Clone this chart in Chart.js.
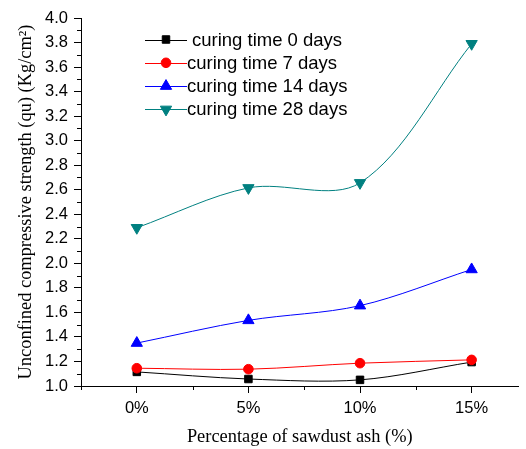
<!DOCTYPE html>
<html>
<head>
<meta charset="utf-8">
<script src="https://cdn.jsdelivr.net/npm/chart.js@4.4.1/dist/chart.umd.min.js"></script>
<style>
  html, body { margin: 0; padding: 0; background: #fff; }
  #wrap { width: 526px; height: 449px; position: relative; }
</style>
</head>
<body>
<div id="wrap"><canvas id="ucs"></canvas></div>
<script>
// ---- data ----
const categories = ['0%', '5%', '10%', '15%'];
const xPositions = [0, 1, 2, 3];
const seriesNames = ['curing time 0 days', 'curing time 7 days', 'curing time 14 days', 'curing time 28 days'];
const cure0  = [1.115, 1.057, 1.050, 1.195];
const cure7  = [1.145, 1.137, 1.186, 1.213];
const cure14 = [1.350, 1.535, 1.655, 1.950];
const cure28 = [2.290, 2.615, 2.656, 3.790];

const seriesColors = ['#000000', '#ff0000', '#0000ff', '#008080'];
const seriesMarkers = [
  { style: 'rect', radius: 5.3, rotation: 0 },
  { style: 'circle', radius: 4.8, rotation: 0 },
  { style: 'triangle', radius: 6.5, rotation: 0 },
  { style: 'triangle', radius: 6.5, rotation: 180 }
];

const SANS = '"Liberation Sans", Arial, sans-serif';
const SERIF = '"Liberation Serif", "Times New Roman", serif';

function toPoints(vals) { return vals.map((v, i) => ({ x: xPositions[i], y: v })); }

// minor ticks + legend drawn by hand (Origin style)
const originDecor = {
  id: 'originDecor',
  afterDraw(chart) {
    const { ctx, scales: { x, y } } = chart;
    ctx.save();
    ctx.strokeStyle = '#000';
    ctx.lineWidth = 1;
    ctx.beginPath();
    // x minor ticks
    for (let v = -0.5; v <= x.max; v += 1) {
      const px = Math.round(x.getPixelForValue(v)) + 0.5;
      ctx.moveTo(px, y.bottom);
      ctx.lineTo(px, y.bottom + 4);
    }
    // y minor ticks
    for (let k = 1; k < 30; k += 2) {
      const py = Math.round(y.getPixelForValue(1 + k * 0.1)) + 0.5;
      ctx.moveTo(x.left, py);
      ctx.lineTo(x.left - 4, py);
    }
    ctx.stroke();

    // legend
    const top = 39.5, gap = 23.3;
    chart.data.datasets.forEach((ds, i) => {
      const yy = top + i * gap;
      const mk = seriesMarkers[i];
      ctx.strokeStyle = ds.borderColor;
      ctx.lineWidth = 1;
      ctx.beginPath();
      ctx.moveTo(145, Math.round(yy) + 0.5);
      ctx.lineTo(187, Math.round(yy) + 0.5);
      ctx.stroke();
      ctx.fillStyle = ds.borderColor;
      Chart.helpers.drawPoint(ctx, {
        pointStyle: mk.style, radius: mk.radius, rotation: mk.rotation, borderWidth: 1
      }, 166, yy);
      ctx.fillStyle = '#000';
      ctx.font = '18.5px ' + SANS;
      ctx.textBaseline = 'middle';
      ctx.textAlign = 'left';
      ctx.fillText(ds.label, i === 0 ? 192 : 187, yy + 1);
    });
    ctx.restore();
  }
};

new Chart(document.getElementById('ucs'), {
  type: 'line',
  data: {
    datasets: [cure0, cure7, cure14, cure28].map((vals, i) => ({
      label: seriesNames[i],
      data: toPoints(vals),
      borderColor: seriesColors[i],
      backgroundColor: seriesColors[i],
      borderWidth: 1,
      tension: 0.33,
      pointStyle: seriesMarkers[i].style,
      pointRadius: seriesMarkers[i].radius,
      pointRotation: seriesMarkers[i].rotation,
      pointBorderWidth: 1,
      order: 3 - i
    }))
  },
  options: {
    responsive: true,
    maintainAspectRatio: false,
    animation: false,
    layout: { padding: { top: 18, right: 1, left: 0, bottom: 0 } },
    plugins: {
      legend: { display: false },
      tooltip: { enabled: false }
    },
    scales: {
      x: {
        type: 'linear',
        min: -0.5,
        max: 3.42,
        afterFit: s => { s.height = 63; },
        afterBuildTicks: s => { s.ticks = xPositions.map(v => ({ value: v })); },
        border: { display: true, color: '#000', width: 1 },
        grid: { display: true, drawOnChartArea: false, drawTicks: true, tickLength: 7, tickColor: '#000' },
        ticks: {
          autoSkip: false,
          maxRotation: 0,
          padding: 6,
          color: '#000',
          font: { family: SANS, size: 16.5 },
          callback: v => categories[xPositions.indexOf(v)]
        },
        title: {
          display: true,
          text: 'Percentage of sawdust ash (%)',
          color: '#000',
          font: { family: SERIF, size: 18.4 },
          padding: { top: 0, bottom: 1 }
        }
      },
      y: {
        min: 1.0,
        max: 4.0,
        afterFit: s => { s.width = 81; },
        border: { display: true, color: '#000', width: 1 },
        grid: { display: true, drawOnChartArea: false, drawTicks: true, tickLength: 7, tickColor: '#000' },
        ticks: {
          stepSize: 0.2,
          padding: 6,
          color: '#000',
          font: { family: SANS, size: 16.5 },
          callback: v => v.toFixed(1)
        },
        title: {
          display: true,
          text: 'Unconfined compressive strength (qu) (Kg/cm²)',
          color: '#000',
          font: { family: SERIF, size: 18.4 },
          padding: { top: 15.5, bottom: 0 }
        }
      }
    }
  },
  plugins: [originDecor]
});
</script>
</body>
</html>
